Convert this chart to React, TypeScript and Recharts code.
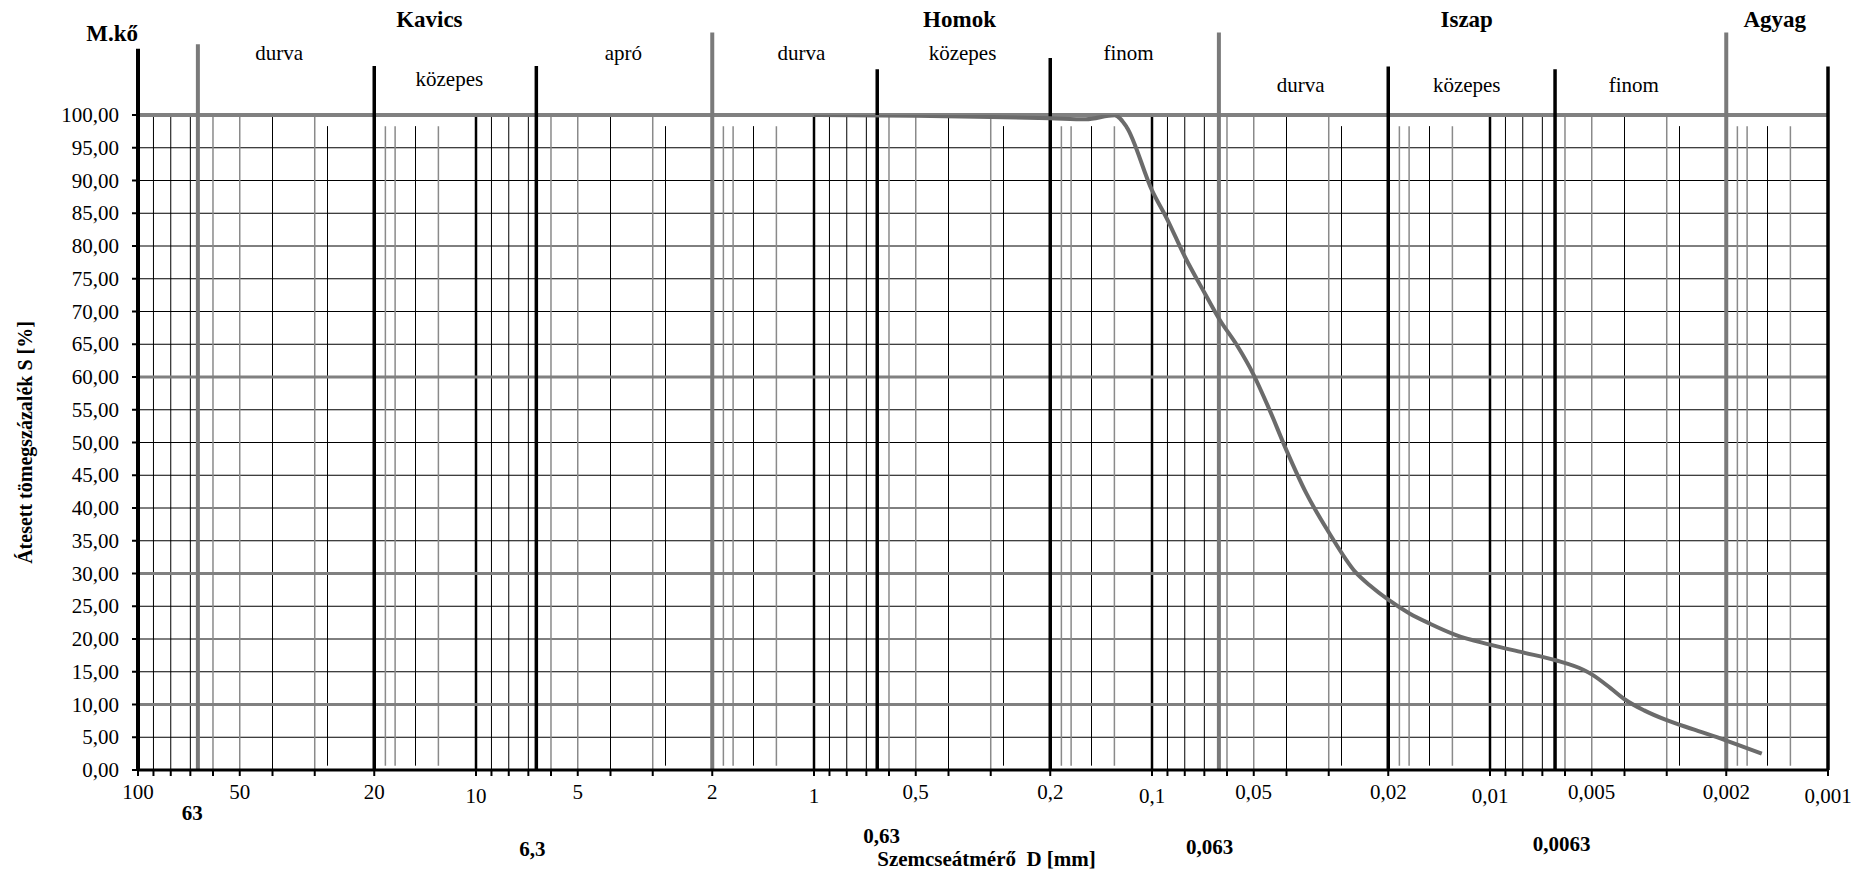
import React from 'react';
import { ComposedChart, Line, XAxis, YAxis, CartesianGrid, ReferenceLine, ReferenceDot } from 'recharts';

const FONT = "'Liberation Serif', 'Times New Roman', Times, serif";

// Grain size distribution curve
const grainSizeMm = [1, 0.5, 0.3, 0.2, 0.157, 0.129, 0.119, 0.1, 0.09, 0.08, 0.07, 0.063, 0.056, 0.05, 0.045, 0.04, 0.035, 0.03, 0.025, 0.0227, 0.02, 0.0173, 0.015, 0.0126, 0.01, 0.008, 0.0064, 0.0053, 0.005, 0.0044, 0.004, 0.0035, 0.003, 0.0025, 0.002, 0.00157];
const passingPct = [100, 99.9, 99.7, 99.5, 99.35, 99.95, 98.2, 88.5, 84.0, 78.4, 72.9, 68.7, 64.8, 60.3, 55.1, 48.8, 42.3, 36.3, 30.2, 28.2, 26.0, 23.9, 22.3, 20.6, 19.15, 17.95, 16.75, 15.3, 14.6, 12.5, 10.8, 9.1, 7.6, 6.2, 4.5, 2.5];

// Axis ticks
const xLabelValues = [100, 50, 20, 10, 5, 2, 1, 0.5, 0.2, 0.1, 0.05, 0.02, 0.01, 0.005, 0.002, 0.001];
const decadeLabelValues = [10, 1, 0.1, 0.01, 0.001];
const yTickValues = [0, 5, 10, 15, 20, 25, 30, 35, 40, 45, 50, 55, 60, 65, 70, 75, 80, 85, 90, 95, 100];
const decadeBases = [10, 1, 0.1, 0.01, 0.001];
const tickMultipliers = [1, 2, 3, 4, 5, 6, 7, 8, 9];

// Vertical grid of the form
const blackMinorMult = [9, 8, 7, 4];
const grayMinorMult = [6, 5, 3];
const shortBlackMult = [2.75, 1.51];
const shortGrayMult = [1.854, 1.735, 1.292];
const mediumLines = [10, 1, 0.1, 0.01];
const boundaryBlack = [100, 20, 6.63, 0.65, 0.2, 0.02, 0.00642, 0.001];
const boundaryBlackTop = [110.1, 107.5, 107.5, 107.0, 108.7, 107.4, 107.0, 107.4];
const boundaryGray = [66.5, 2, 0.0634, 0.002];
const boundaryGrayTop = [110.8, 112.6, 112.6, 112.6];
const thickGrayLevels = [10, 30, 60, 100];

// Soil class annotations
const groupNames = ['M.kő', 'Kavics', 'Homok', 'Iszap', 'Agyag'];
const groupAt = [119.2, 13.74, 0.3711, 0.01172, 0.001437];
const groupLevel = [111.3, 113.4, 113.4, 113.4, 113.4];
const subNames = ['durva', 'közepes', 'apró', 'durva', 'közepes', 'finom', 'durva', 'közepes', 'finom'];
const subAt = [38.2, 11.99, 3.663, 1.089, 0.3635, 0.1173, 0.03633, 0.01172, 0.003756];
const subLevel = [108.4, 104.4, 108.4, 108.4, 108.4, 108.4, 103.5, 103.5, 103.5];
const limitNames = ['63', '6,3', '0,63', '0,063', '0,0063'];
const limitAt = [69.1, 6.807, 0.6313, 0.06754, 0.006142];
const limitLevel = [-7.6, -13.2, -11.1, -12.8, -12.3];

const round = (v: number) => Number(v.toPrecision(6));
const xTicks = [100, ...decadeBases.flatMap((b) => tickMultipliers.map((m) => round(b * m)))];
const same = (a: number, b: number) => Math.abs(Math.log10(a) - Math.log10(b)) < 1e-6;

const data = grainSizeMm.map((d, i) => ({ d, s: passingPct[i] }));

const fmt = (v: number) => String(v).replace('.', ',');

const XTick = (props: any) => {
  const { x, y, payload } = props;
  const v = payload.value as number;
  if (!xLabelValues.some((l) => same(l, v))) return <g />;
  const low = decadeLabelValues.some((l) => same(l, v));
  return (
    <text x={x} y={y + (low ? 25 : 21)} textAnchor="middle" fontFamily={FONT} fontSize={21} fill="#000">
      {fmt(v)}
    </text>
  );
};

const YTick = (props: any) => {
  const { x, y, payload } = props;
  return (
    <text x={x - 11} y={y + 7} textAnchor="end" fontFamily={FONT} fontSize={21} fill="#000">
      {(payload.value as number).toFixed(2).replace('.', ',')}
    </text>
  );
};

const textShape = (text: string, size: number, bold: boolean) => (p: any) => (
  <text x={p.cx} y={p.cy} textAnchor="middle" fontFamily={FONT} fontSize={size} fontWeight={bold ? 'bold' : 'normal'} fill="#000" style={{ whiteSpace: 'pre' }}>
    {text}
  </text>
);

const rotatedShape = (text: string) => (p: any) => (
  <text x={p.cx} y={p.cy} transform={`rotate(-90, ${p.cx}, ${p.cy})`} textAnchor="middle" fontFamily={FONT} fontSize={20} fontWeight="bold" fill="#000">
    {text}
  </text>
);

const vSeg = (d: number, y0: number, y1: number, stroke: string, w: number, key: string) => (
  <ReferenceLine key={key} segment={[{ x: d, y: y0 }, { x: d, y: y1 }]} stroke={stroke} strokeWidth={w} ifOverflow="visible" />
);

export default function App() {
  const minorLines: React.ReactNode[] = [];
  decadeBases.forEach((b, bi) => {
    blackMinorMult.forEach((m) => minorLines.push(vSeg(round(b * m), 0, 100, '#000', 1, `bm${bi}-${m}`)));
    grayMinorMult.forEach((m) => minorLines.push(vSeg(round(b * m), 0, 100, '#8a8a8a', 1.5, `gm${bi}-${m}`)));
    shortBlackMult.forEach((m) => minorLines.push(vSeg(b * m, 0.66, 98.3, '#000', 1, `sb${bi}-${m}`)));
    shortGrayMult.forEach((m) => minorLines.push(vSeg(b * m, 0.66, 98.3, '#8a8a8a', 1.5, `sg${bi}-${m}`)));
  });

  return (
    <div style={{ position: 'absolute', left: 0, top: 0, width: 1867, height: 875, background: '#fff' }}>
      <ComposedChart width={1867} height={875} data={data} margin={{ top: 115, right: 39, bottom: 75, left: 0 }}>
        <CartesianGrid horizontal vertical={false} stroke="#000" strokeWidth={1} />
        <XAxis
          type="number"
          dataKey="d"
          scale="log"
          domain={[0.001, 100]}
          reversed
          allowDataOverflow
          ticks={xTicks}
          interval={0}
          height={30}
          tickSize={6}
          tick={(p: any) => <XTick {...p} />}
          tickLine={{ stroke: '#000', strokeWidth: 2 }}
          axisLine={{ stroke: '#000', strokeWidth: 3 }}
        />
        <YAxis
          type="number"
          domain={[0, 100]}
          ticks={yTickValues}
          interval={0}
          width={138}
          tickSize={6}
          allowDataOverflow
          tick={(p: any) => <YTick {...p} />}
          tickLine={{ stroke: '#000', strokeWidth: 2 }}
          axisLine={false}
        />
        {minorLines}
        {mediumLines.map((d) => vSeg(d, 0, 100, '#000', 2.5, `md${d}`))}
        {thickGrayLevels.map((lv) => (
          <ReferenceLine key={`h${lv}`} y={lv} stroke="#808080" strokeWidth={lv === 100 ? 4 : 3} ifOverflow="visible" />
        ))}
        {boundaryGray.map((d, i) => vSeg(d, 0, boundaryGrayTop[i], '#7a7a7a', 4, `bg${i}`))}
        {boundaryBlack.map((d, i) => vSeg(d, 0, boundaryBlackTop[i], '#000', i === 0 ? 4 : 3.5, `bb${i}`))}
        {groupNames.map((t, i) => (
          <ReferenceDot key={`g${i}`} x={groupAt[i]} y={groupLevel[i]} r={0} ifOverflow="visible" shape={textShape(t, 23, true)} />
        ))}
        {subNames.map((t, i) => (
          <ReferenceDot key={`s${i}`} x={subAt[i]} y={subLevel[i]} r={0} ifOverflow="visible" shape={textShape(t, 21, false)} />
        ))}
        {limitNames.map((t, i) => (
          <ReferenceDot key={`l${i}`} x={limitAt[i]} y={limitLevel[i]} r={0} ifOverflow="visible" shape={textShape(t, 21, true)} />
        ))}
        <ReferenceDot x={0.3087} y={-14.7} r={0} ifOverflow="visible" shape={textShape('Szemcseátmérő  D [mm]', 21, true)} />
        <ReferenceDot x={205.5} y={50} r={0} ifOverflow="visible" shape={rotatedShape('Átesett tömegszázalék S [%]')} />
        <Line type="monotone" dataKey="s" stroke="#6b6b6b" strokeWidth={4} dot={false} activeDot={false} isAnimationActive={false} />
      </ComposedChart>
    </div>
  );
}
